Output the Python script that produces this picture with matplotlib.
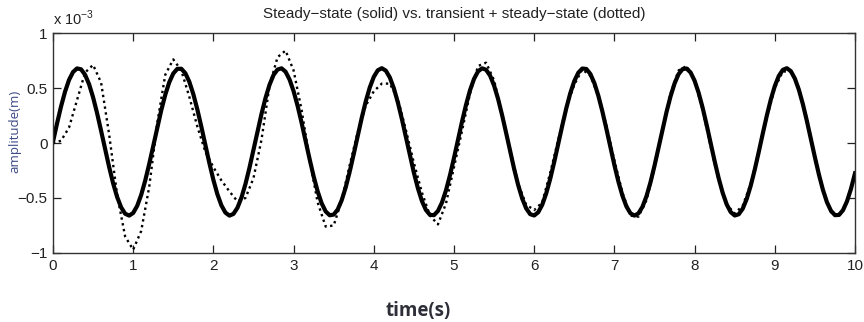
import numpy as np
import matplotlib
matplotlib.use("Agg")
import matplotlib.pyplot as plt
from matplotlib.ticker import FuncFormatter

plt.rcParams['font.family'] = ['Liberation Sans', 'DejaVu Sans']
plt.rcParams['mathtext.fontset'] = 'custom'
plt.rcParams['mathtext.rm'] = 'Liberation Sans'

# steady-state response, read every 0.05 s (values in units of 1e-3 m)
t_steady = np.linspace(0, 10, 201)
steady_mm = [
    0.010, 0.175, 0.330, 0.465, 0.573, 0.645, 0.678, 0.670, 0.621, 0.535,
    0.416, 0.272, 0.111, -0.055, -0.217, -0.366, -0.491, -0.585, -0.643, -0.660,
    -0.636, -0.572, -0.472, -0.342, -0.191, -0.027, 0.139, 0.297, 0.438, 0.552,
    0.632, 0.674, 0.675, 0.635, 0.557, 0.444, 0.305, 0.148, -0.018, -0.182,
    -0.335, -0.466, -0.567, -0.633, -0.660, -0.645, -0.589, -0.497, -0.373, -0.225,
    -0.063, 0.103, 0.264, 0.409, 0.529, 0.618, 0.668, 0.679, 0.648, 0.577,
    0.472, 0.338, 0.184, 0.019, -0.147, -0.303, -0.439, -0.548, -0.622, -0.657,
    -0.651, -0.605, -0.520, -0.403, -0.260, -0.100, 0.066, 0.229, 0.379, 0.505,
    0.601, 0.661, 0.680, 0.658, 0.596, 0.498, 0.369, 0.219, 0.055, -0.111,
    -0.270, -0.411, -0.527, -0.609, -0.653, -0.656, -0.618, -0.542, -0.431, -0.293,
    -0.136, 0.030, 0.194, 0.347, 0.480, 0.583, 0.651, 0.679, 0.666, 0.613,
    0.522, 0.400, 0.253, 0.092, -0.074, -0.236, -0.382, -0.504, -0.594, -0.647,
    -0.659, -0.630, -0.562, -0.458, -0.325, -0.172, -0.007, 0.158, 0.315, 0.453,
    0.563, 0.639, 0.677, 0.673, 0.628, 0.545, 0.429, 0.287, 0.129, -0.038,
    -0.201, -0.351, -0.479, -0.577, -0.639, -0.660, -0.640, -0.580, -0.484, -0.357,
    -0.207, -0.044, 0.122, 0.282, 0.424, 0.541, 0.626, 0.672, 0.677, 0.641,
    0.566, 0.457, 0.321, 0.165, -0.001, -0.166, -0.320, -0.453, -0.558, -0.628,
    -0.659, -0.648, -0.597, -0.508, -0.387, -0.242, -0.081, 0.086, 0.248, 0.395,
    0.518, 0.610, 0.665, 0.680, 0.653, 0.586, 0.484, 0.353, 0.200, 0.036,
    -0.130, -0.287, -0.426, -0.538, -0.616, -0.656, -0.654, -0.611, -0.530, -0.416,
    -0.275,
]

# transient + steady-state, read every 0.1 s (units of 1e-3 m)
t_total = np.linspace(0, 10, 101)
total_mm = [
    0.00, 0.02, 0.14, 0.39, 0.64, 0.71, 0.55, 0.08, -0.47, -0.85,
    -0.97, -0.80, -0.40, 0.18, 0.62, 0.76, 0.66, 0.42, 0.15, -0.08,
    -0.22, -0.34, -0.44, -0.53, -0.50, -0.32, 0.03, 0.52, 0.78, 0.84,
    0.66, 0.30, -0.15, -0.54, -0.76, -0.75, -0.52, -0.20, 0.10, 0.34,
    0.47, 0.54, 0.54, 0.40, 0.12, -0.18, -0.45, -0.66, -0.74, -0.55,
    -0.22, 0.11, 0.45, 0.70, 0.73, 0.57, 0.26, -0.06, -0.37, -0.56,
    -0.61, -0.54, -0.27, 0.03, 0.32, 0.53, 0.67, 0.61, 0.43, 0.16,
    -0.16, -0.45, -0.66, -0.67, -0.52, -0.23, 0.12, 0.45, 0.66, 0.70,
    0.57, 0.30, -0.03, -0.34, -0.56, -0.64, -0.57, -0.37, -0.08, 0.23,
    0.50, 0.65, 0.65, 0.50, 0.22, -0.12, -0.43, -0.63, -0.67, -0.54,
    -0.28,
]

y_ticks_mm = [-1, -0.5, 0, 0.5, 1]

fig = plt.figure(figsize=(8.64, 3.22), dpi=100)
ax = fig.add_axes([0.0613, 0.2143, 0.9283, 0.6832])

ax.plot(t_total, np.array(total_mm) * 1e-3, color="black", lw=1.7,
        linestyle=(0, (1, 1.5)))
ax.plot(t_steady, np.array(steady_mm) * 1e-3, color="black", lw=3.0,
        solid_joinstyle="round")

ax.set_xlim(0, 10)
ax.set_ylim(-1e-3, 1e-3)
ax.set_xticks(range(11))
ax.set_yticks(np.array(y_ticks_mm) * 1e-3)
ax.yaxis.set_major_formatter(
    FuncFormatter(lambda v, p: ("%g" % round(v * 1e3, 3)).replace("-", "\u2212")))
ax.tick_params(direction="in", top=True, right=True, length=5.5, width=0.9,
               labelsize=11, pad=4, colors="#222222")
for s in ax.spines.values():
    s.set_linewidth(1.0)
    s.set_color("#333333")

ax.set_title("Steady\u2212state (solid) vs. transient + steady\u2212state (dotted)",
             fontsize=11, pad=11, color="#222222")
ax.text(0.0, 1.025, "x 10$^{-3}$", transform=ax.transAxes, fontsize=10.5,
        va="bottom", ha="left", color="#222222")

fig.text(15 / 864, 1 - 131 / 322, "amplitude(m)", rotation=90, fontsize=9.5,
         family="Open Sans", color="#3c4a86", ha="center", va="center")
fig.text(418 / 864, 1 - 311 / 322, "time(s)", fontsize=13.5, fontweight="bold",
         family="Open Sans", color="#2e2e38", ha="center", va="center")

fig.savefig("out.png", dpi=100)
